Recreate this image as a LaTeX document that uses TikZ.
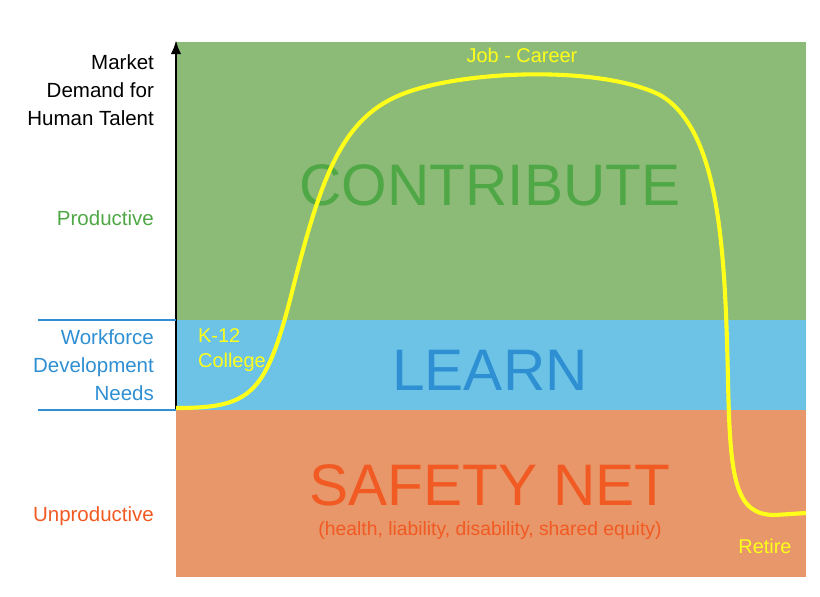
\documentclass[tikz,border=0pt]{standalone}
\usepackage{fontspec}
\setmainfont{Liberation Sans}
\usetikzlibrary{arrows.meta}
\definecolor{bandgreen}{HTML}{8CBB78}
\definecolor{bandblue}{HTML}{6CC3E6}
\definecolor{bandorange}{HTML}{E8976A}
\definecolor{txtgreen}{HTML}{4FA845}
\definecolor{txtblue}{HTML}{2E8FD2}
\definecolor{txtorange}{HTML}{F15A22}
\definecolor{curveyellow}{HTML}{FFFF1A}
\begin{document}
\begin{tikzpicture}[x=0.03cm, y=-0.03cm,
  side/.style={font=\fontsize{17.5}{24}\selectfont, align=right, anchor=east},
  big/.style={font=\fontsize{50}{55}\selectfont},
  small/.style={font=\fontsize{17}{21}\selectfont, text=curveyellow}]

\useasboundingbox (0,0) rectangle (820,597);

% bands
\fill[bandgreen] (176,42) rectangle (806,320);
\fill[bandblue] (176,320) rectangle (806,410);
\fill[bandorange] (176,410) rectangle (806,577);

% band titles
\node (contribute) at (490,185) [big, text=txtgreen] {CONTRIBUTE};
\node (learn) at (490,370) [big, text=txtblue] {LEARN};
\node (safety) at (490,485) [big, text=txtorange] {SAFETY NET};
\node (safetynote) at (490,530) [font=\fontsize{16.5}{20}\selectfont, text=txtorange] {(health, liability, disability, shared equity)};

% axis
\coordinate (axbot) at (176,410);
\coordinate (axtop) at (176,40);
\draw[line width=2.5pt, -{Latex[length=12pt,width=9pt]}] (axbot) -- (axtop);
\coordinate (wl1) at (38,320);
\coordinate (wr1) at (176,320);
\coordinate (wl2) at (38,410);
\coordinate (wr2) at (176,410);
\draw[txtblue, line width=1.5pt] (wl1) -- (wr1);
\draw[txtblue, line width=1.5pt] (wl2) -- (wr2);

% side labels
\node (market) at (158,90) [side] {Market\\Demand for\\Human Talent};
\node (productive) at (158,218) [side, text=txtgreen] {Productive};
\node (workforce) at (158,365) [side, text=txtblue] {Workforce\\Development\\Needs};
\node (unproductive) at (158,516) [side, text=txtorange] {Unproductive};

% career curve
\draw[curveyellow, line width=3.5pt]
  (176,408) .. controls (250,408) and (265,395) .. (290,300)
  .. controls (320,180) and (340,120) .. (400,95)
  .. controls (460,70) and (600,65) .. (660,95)
  .. controls (720,130) and (725,250) .. (728,380)
  .. controls (730,480) and (735,515) .. (775,515)
  -- (806,513);

% curve labels
\node (job) at (522,55) [small] {Job - Career};
\node (k12) at (194,350) [small, align=left, anchor=west] {K-12\\College};
\node (retire) at (765,546) [small] {Retire};
\end{tikzpicture}
\end{document}
